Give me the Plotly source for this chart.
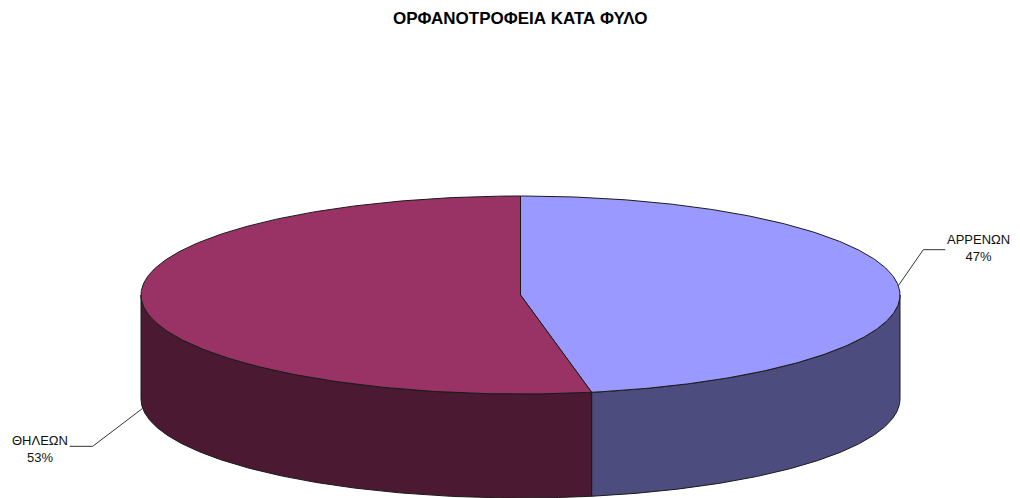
import numpy as np
import plotly.graph_objects as go

# ---- data ----
categories = ["ΑΡΡΕΝΩΝ", "ΘΗΛΕΩΝ"]
values = [47, 53]
top_colors = ["#9999FF", "#993366"]
side_colors = ["#4C4C7F", "#4C1933"]
title_text = "ΟΡΦΑΝΟΤΡΟΦΕΙΑ ΚΑΤΑ ΦΥΛΟ"

# ---- geometry / style ----
W, H = 1020, 498
PAD = 8  # page body margin
cx, cy = 520.5, 295.0
rx, ry = 379.5, 99.0
depth = 104.0
edge = dict(color="#1a1a1a", width=1)
label_font = dict(family="Liberation Sans, Arial", size=13, color="#111111")


def pt(theta_deg, dy=0.0):
    t = np.radians(theta_deg)
    return cx + rx * np.sin(t), cy - ry * np.cos(t) + dy


total = float(sum(values))
angles = np.concatenate([[0.0], np.cumsum(values) / total * 360.0])

fig = go.Figure()

# side faces (front half only: 90..270 deg clockwise from top)
for i in range(len(values)):
    a0, a1 = angles[i], angles[i + 1]
    s0, s1 = max(a0, 90.0), min(a1, 270.0)
    if s1 <= s0:
        continue
    th = np.linspace(s0, s1, 200)
    xt, yt = pt(th)
    xb, yb = pt(th[::-1], depth)
    xs = np.concatenate([xt, xb, [xt[0]]])
    ys = np.concatenate([yt, yb, [yt[0]]])
    fig.add_trace(go.Scatter(x=xs, y=ys, mode="lines", fill="toself",
                             fillcolor=side_colors[i], line=edge,
                             hoverinfo="skip", showlegend=False))

# top faces
for i in range(len(values)):
    a0, a1 = angles[i], angles[i + 1]
    th = np.linspace(a0, a1, 300)
    xa, ya = pt(th)
    xs = np.concatenate([[cx], xa, [cx]])
    ys = np.concatenate([[cy], ya, [cy]])
    fig.add_trace(go.Scatter(x=xs, y=ys, mode="lines", fill="toself",
                             fillcolor=top_colors[i], line=edge,
                             hoverinfo="skip", showlegend=False,
                             name=categories[i]))

# labels with leader lines (dx, dy, horizontal tail, text y shift)
offsets = [(25, -36, 22, -2), (-50, 38, -23, 3)]
annotations = []
for i in range(len(values)):
    mid = (angles[i] + angles[i + 1]) / 2.0
    x0, y0 = pt(mid)
    if np.cos(np.radians(mid)) < 0:
        y0 += depth
    dx, dy, hx, ty = offsets[i]
    x1, y1 = x0 + dx, y0 + dy
    x2 = x1 + hx
    fig.add_trace(go.Scatter(x=[x0, x1, x2], y=[y0, y1, y1], mode="lines",
                             line=dict(color="#333333", width=1),
                             hoverinfo="skip", showlegend=False))
    pct = round(values[i] / total * 100)
    annotations.append(dict(
        x=x2 + (1 if hx > 0 else -1), y=y1 + ty,
        xref="x", yref="y",
        text=f"{categories[i]}<br>{pct}%",
        showarrow=False, borderpad=0,
        xanchor="left" if hx > 0 else "right",
        yanchor="middle", align="center", font=label_font))

annotations.append(dict(
    x=520, y=18, xref="x", yref="y", text=f"<b>{title_text}</b>",
    showarrow=False, xanchor="center", yanchor="middle",
    font=dict(family="Liberation Sans, Arial", size=17, color="#000000")))

fig.update_layout(
    width=W - PAD, height=H - PAD,
    margin=dict(l=0, r=0, t=0, b=0),
    paper_bgcolor="white", plot_bgcolor="white",
    xaxis=dict(range=[PAD, W], visible=False, fixedrange=True),
    yaxis=dict(range=[H, PAD], visible=False, fixedrange=True),
    annotations=annotations,
    showlegend=False,
)

fig.write_html("out.html", config={"displayModeBar": False})
